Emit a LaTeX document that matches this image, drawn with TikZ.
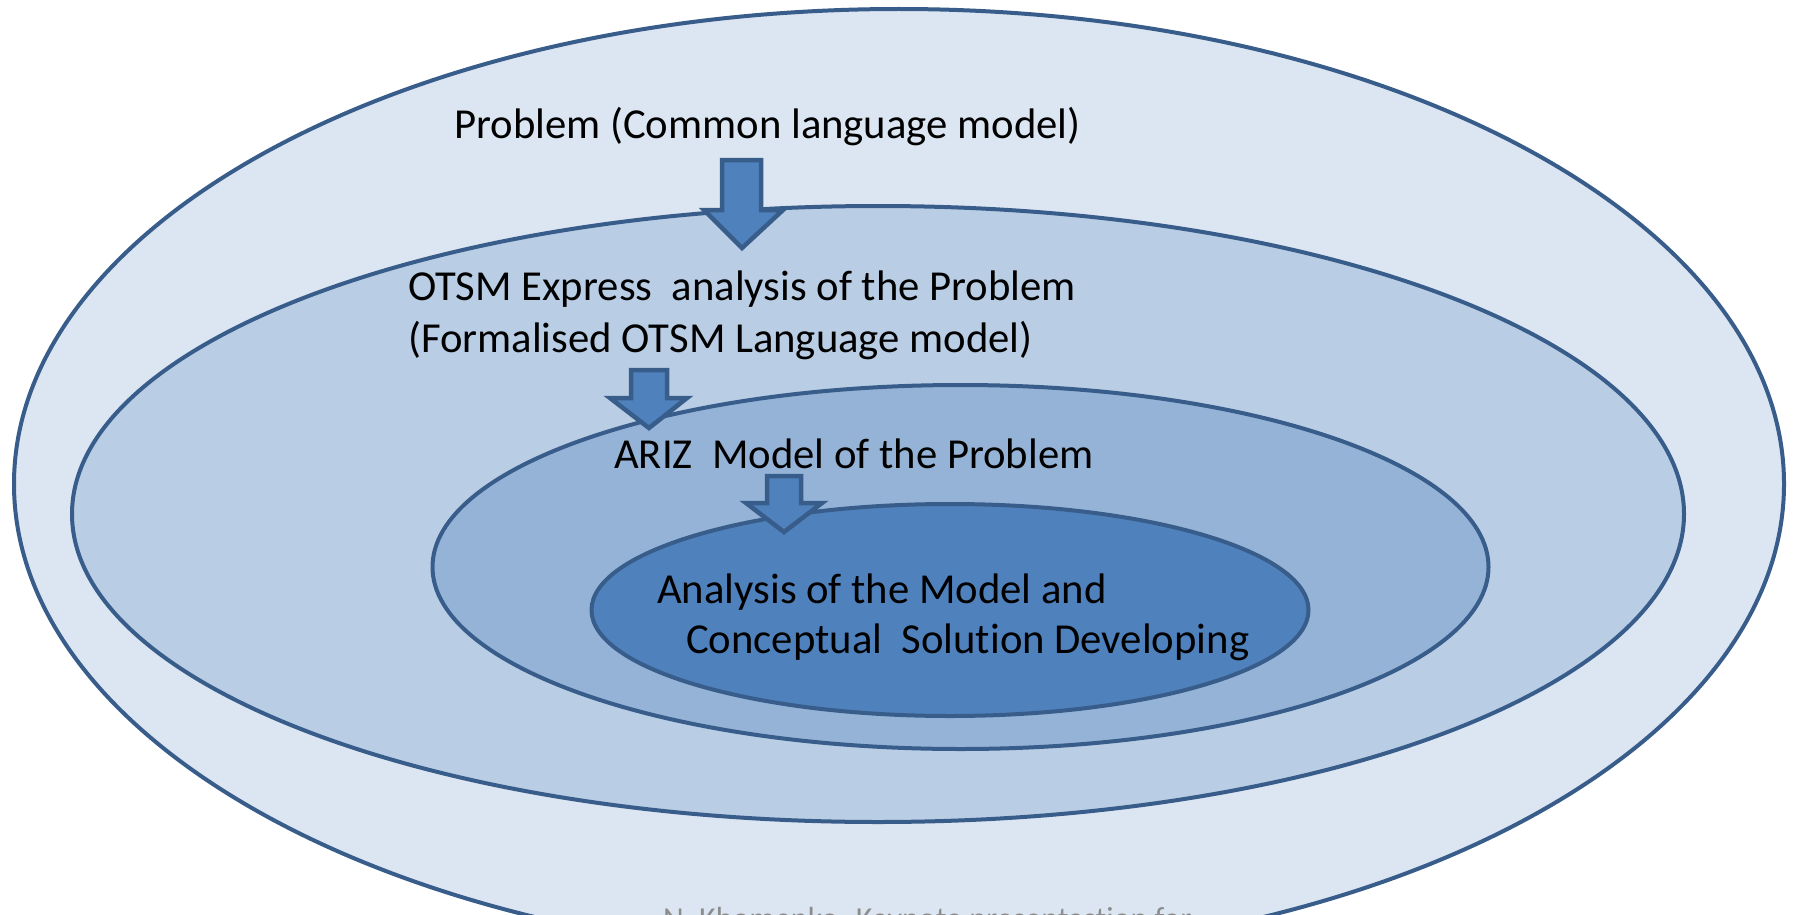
\documentclass[tikz,border=0pt]{standalone}
\usepackage{fontspec}
\setmainfont{Carlito}[Ligatures=NoCommon]
\definecolor{edge}{HTML}{385D8A}
\definecolor{c1}{HTML}{DCE6F2}
\definecolor{c2}{HTML}{B9CDE5}
\definecolor{c3}{HTML}{95B3D7}
\definecolor{c4}{HTML}{4F81BD}
\definecolor{foot}{HTML}{8C8C8C}
\begin{document}
\begin{tikzpicture}[x=1pt,y=-1pt,
  ell/.style={draw=edge,line width=4pt},
  blk/.style={draw=edge,fill=c4,line width=4.5pt,line join=miter},
  lbl/.style={anchor=base west,inner sep=0pt,font=\fontsize{42.7}{52}\selectfont},
  footlbl/.style={anchor=base west,inner sep=0pt,text=foot,font=\fontsize{32}{38}\selectfont}]
\useasboundingbox (0,0) rectangle (1793,915);
\clip (0,0) rectangle (1793,915);
\fill[white] (0,0) rectangle (1793,915);
\draw[ell,fill=c1] (899,484) ellipse [x radius=885, y radius=475];
\draw[ell,fill=c2] (878,514) ellipse [x radius=806, y radius=308];
\draw[ell,fill=c3] (960.5,567) ellipse [x radius=528, y radius=182];
\draw[ell,fill=c4] (950,610) ellipse [x radius=358.5, y radius=106];
% block arrows
\draw[blk] (722,160) -- (761,160) -- (761,210) -- (783,210) -- (742,248) -- (704,210) -- (722,210) -- cycle;
\draw[blk] (631,370) -- (667,370) -- (667,398) -- (687,398) -- (649,428) -- (610,398) -- (631,398) -- cycle;
\draw[blk] (767,476) -- (801,476) -- (801,503) -- (822,503) -- (784,532) -- (746,503) -- (767,503) -- cycle;
% labels
\node[lbl] (t1) at (454,139) {Problem (Common language model)};
\node[lbl] (t2) at (408,300) {OTSM Express~ analysis of the Problem};
\node[lbl] (t3) at (408,352) {(Formalised OTSM Language model)};
\node[lbl] (t4) at (614,468) {ARIZ~ Model of the Problem};
\node[lbl] (t5) at (657,603) {Analysis of the Model and};
\node[lbl] (t6) at (686,653) {Conceptual~ Solution Developing};
\node[footlbl] (f) at (663,929) {N. Khomenko. Keynote presentastion for};
\end{tikzpicture}
\end{document}
